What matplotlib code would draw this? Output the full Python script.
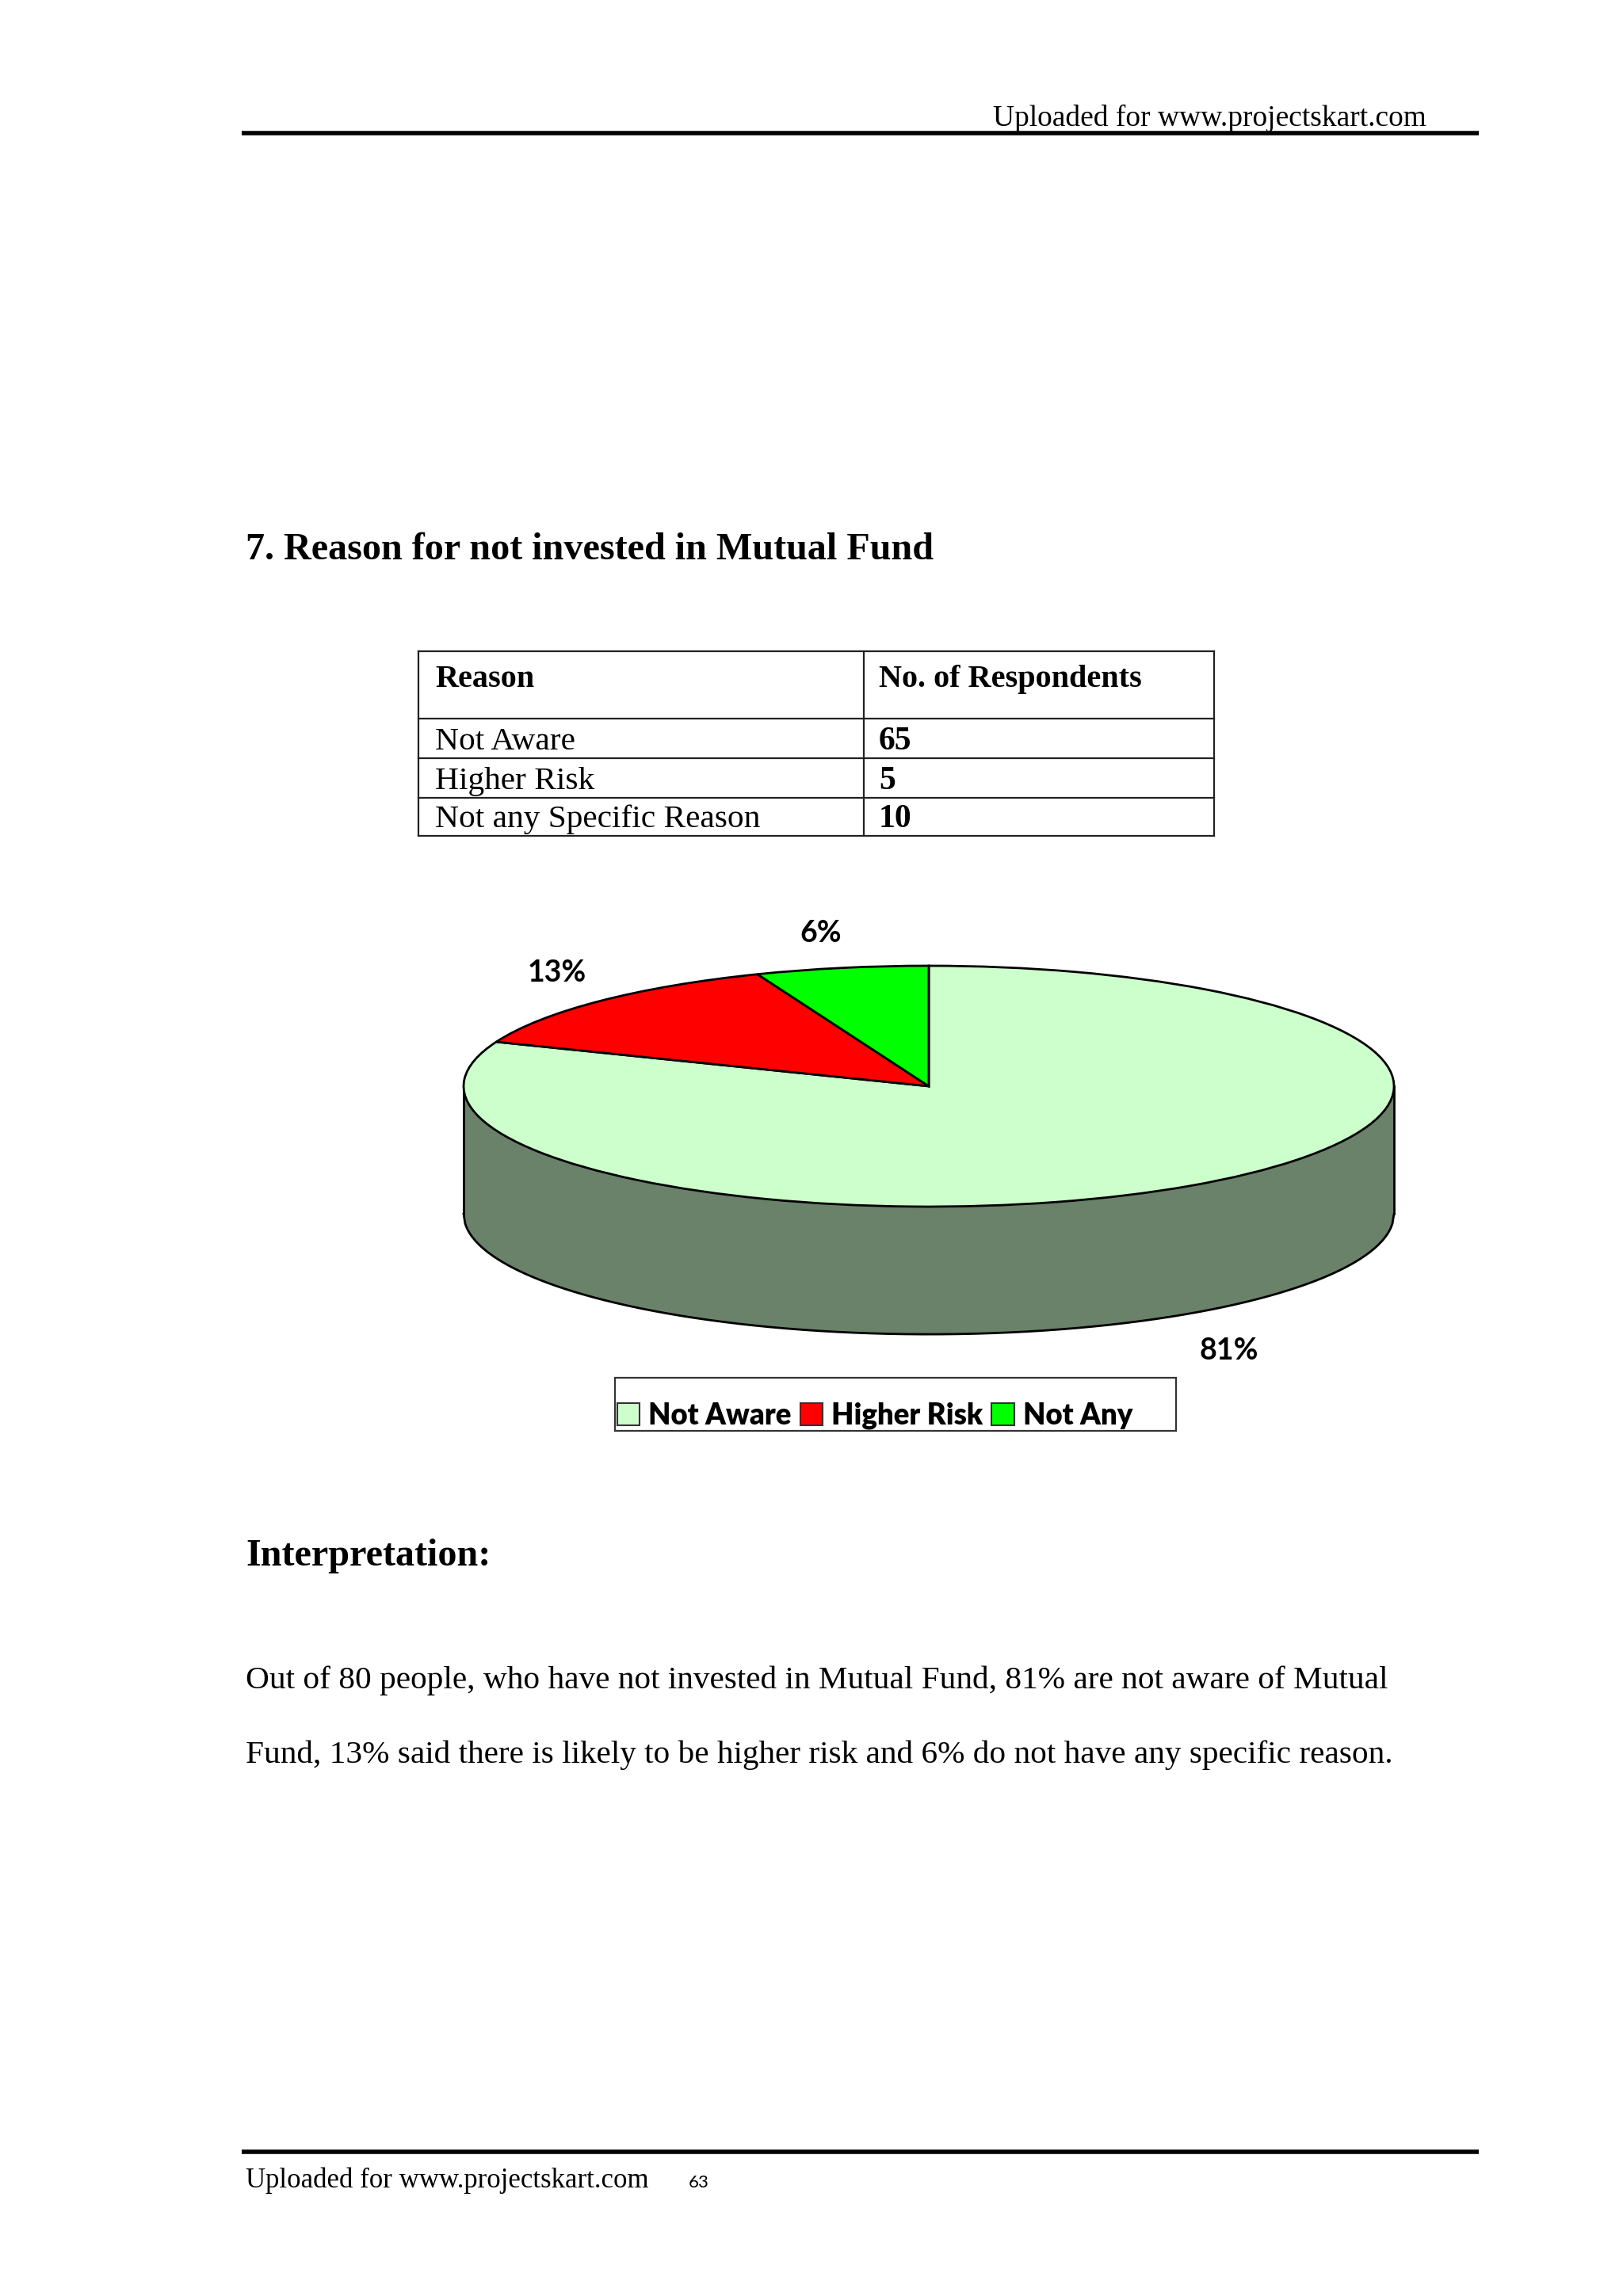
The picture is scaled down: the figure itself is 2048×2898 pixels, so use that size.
"""Survey page: reason for not investing in mutual funds (table + 3D pie)."""

import matplotlib

matplotlib.use("Agg")

import matplotlib.pyplot as plt  # noqa: E402
import numpy as np  # noqa: E402
from matplotlib.patches import Patch, Rectangle  # noqa: E402

# --- data -----------------------------------------------------------------
table_reasons = ["Not Aware", "Higher Risk", "Not any Specific Reason"]
table_counts = [65, 5, 10]

pie_labels = ["Not Aware", "Higher Risk", "Not Any"]
pie_shares = [81, 13, 6]  # percentages as drawn in the chart

title = "7. Reason for not invested in Mutual Fund"
para_lines = [
    "Out of 80 people, who have not invested in Mutual Fund, 81% are not aware of Mutual",
    "Fund, 13% said there is likely to be higher risk and 6% do not have any specific reason.",
]
site = "Uploaded for www.projectskart.com"
page_no = "63"

# --- style ----------------------------------------------------------------
W, H = 2048, 2898
SERIF = "Liberation Serif"
SANS = "Lato"
INK = "#000000"
PIE_COLORS = ["#CCFFCC", "#FF0000", "#00FF00"]
SIDE = "#6A816A"

fig = plt.figure(figsize=(W / 100, H / 100), dpi=100)
fig.patch.set_facecolor("white")

# page axes in pixel coordinates (y downwards)
page = fig.add_axes([0, 0, 1, 1])
page.set_xlim(0, W)
page.set_ylim(H, 0)
page.axis("off")

# header / footer rules
page.plot([305, 1866], [168, 168], color=INK, lw=4, solid_capstyle="butt")
page.plot([305, 1866], [2716, 2716], color=INK, lw=4, solid_capstyle="butt")
page.text(1800, 159, site, family=SERIF, fontsize=27, ha="right", va="baseline")
page.text(310, 2761, site, family=SERIF, fontsize=25, ha="left", va="baseline")
page.text(869, 2761, page_no, family=SANS, fontsize=16, ha="left", va="baseline")

page.text(310, 706, title, family=SERIF, fontsize=34.7, fontweight="bold",
          ha="left", va="baseline")

# --- table ----------------------------------------------------------------
t_left, t_mid, t_right = 528, 1090, 1532
row_lines = [822, 907, 957, 1007, 1055]
for y in row_lines:
    page.plot([t_left, t_right], [y, y], color="#222222", lw=1.6)
for x in (t_left, t_mid, t_right):
    page.plot([x, x], [row_lines[0], row_lines[-1]], color="#222222", lw=1.6)

page.text(549, 867, "Reason", family=SERIF, fontsize=29, fontweight="bold", va="baseline")
page.text(1109, 867, "No. of Respondents", family=SERIF, fontsize=29,
          fontweight="bold", va="baseline")
for i, (reason, count) in enumerate(zip(table_reasons, table_counts)):
    yb = row_lines[i + 2] - 11
    page.text(549, yb, reason, family=SERIF, fontsize=29.8, va="baseline")
    page.text(1109, yb, str(count), family=SERIF, fontsize=30,
              fontweight="bold", va="baseline")

# --- 3D-looking pie -------------------------------------------------------
cx, cy, a, b = 1172, 1371, 587, 152  # centre and semi-axes in page px
depth = 1.06                          # side height, in units of b
xl, yl = (-1.3, 1.3), (-2.3, 1.3)
left_px = cx + xl[0] * a
top_px = cy - yl[1] * b
w_px = (xl[1] - xl[0]) * a
h_px = (yl[1] - yl[0]) * b
ax = fig.add_axes([left_px / W, 1 - (top_px + h_px) / H, w_px / W, h_px / H])
ax.patch.set_alpha(0)

# side wall (front half of the cylinder)
xs = np.linspace(-1, 1, 600)
rim = -np.sqrt(1 - xs ** 2)
ax.fill_between(xs, rim - depth, rim, color=SIDE, lw=0, zorder=1)
ax.plot(xs, rim - depth, color=INK, lw=2, zorder=2)
ax.plot([-1, -1], [0, -depth], color=INK, lw=2, zorder=2)
ax.plot([1, 1], [0, -depth], color=INK, lw=2, zorder=2)

wedges, _ = ax.pie(
    pie_shares, colors=PIE_COLORS, startangle=90, counterclock=False,
    wedgeprops={"edgecolor": INK, "linewidth": 2},
)
for w in wedges:
    w.set_zorder(3)
ax.set_aspect("auto")
ax.set_xlim(*xl)
ax.set_ylim(*yl)
ax.axis("off")

# percentage labels (placed as in the original chart)
label_pos = [(0.645, -2.20), (-0.80, 0.94), (-0.233, 1.27)]
for share, (lx, ly) in zip(pie_shares, label_pos):
    ax.text(lx, ly, f"{share}%", family=SANS, fontsize=27, fontweight="bold",
            ha="center", va="center", zorder=4)

# --- legend ---------------------------------------------------------------
page.add_patch(Rectangle((776, 1739), 708, 67, fill=False, ec="#333333", lw=1.6))
handles = [Patch(facecolor=c, edgecolor="#333333", lw=1.5) for c in PIE_COLORS]
fig.legend(
    handles, pie_labels, loc="lower left",
    bbox_to_anchor=(777 / W, 1 - 1806 / H), frameon=False, ncol=3,
    prop={"family": SANS, "weight": "heavy", "size": 26.3},
    handlelength=0.78, handleheight=0.82, handletextpad=0.3,
    columnspacing=0.3, borderpad=0.05, borderaxespad=0,
)

# --- interpretation -------------------------------------------------------
page.text(310, 1976, "Interpretation:", family=SERIF, fontsize=34.7,
          fontweight="bold", va="baseline")
for line, yb in zip(para_lines, (2131, 2225)):
    page.text(310, yb, line, family=SERIF, fontsize=29.7, va="baseline")

fig.savefig("out.png", dpi=100, facecolor="white")
plt.close(fig)
